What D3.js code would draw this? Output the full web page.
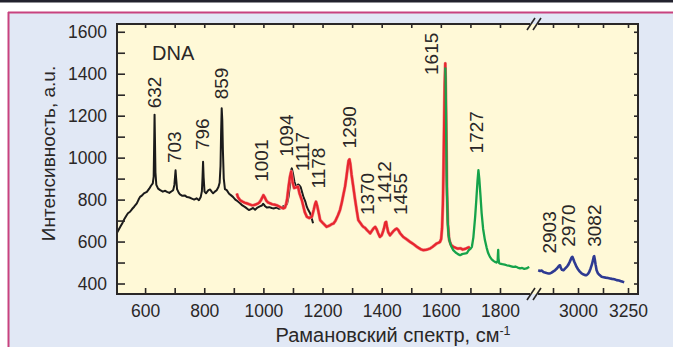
<!DOCTYPE html>
<html>
<head>
<meta charset="utf-8">
<script src="https://cdn.jsdelivr.net/npm/d3@7"></script>
<style>
  body { margin: 0; background: #fff; }
  svg { display: block; font-family: "Liberation Sans", Arial, sans-serif; }
</style>
</head>
<body>
<div id="chart"></div>
<script>
// spectrum pieces, wavenumber (cm-1) and intensity (a.u.)
const blackWn = [505,512,518,524,530,536,542,549,556,563,572,578,583,590,596,606,614,620,626,629,631,632,633,635,638,644,651,660,668,674,682,690,695,699,701,703,705,708,714,718,726,734,742,750,758,766,774,782,788,792,794,796,798,801,806,809,814,820,825,830,836,842,848,852,855,857,859,861,863,866,870,876,884,891,897,905,913,921,929,937,944,951,958,965,972,980,988,995,999,1002,1006,1012,1020,1028,1036,1045,1053,1060,1067,1074,1080,1085,1089,1092,1094,1096,1100,1105,1110,1114,1117,1121,1126,1130,1136,1142,1147,1152,1158,1163,1168];
const blackVal = [642,660,675,690,708,722,735,742,755,766,782,800,813,820,830,837,852,866,877,910,1100,1205,1120,930,870,852,845,838,842,837,832,840,845,870,905,940,900,850,832,825,818,820,812,810,805,800,806,797,812,840,900,980,905,838,830,836,845,848,838,830,838,845,860,880,960,1120,1235,1180,1040,900,850,845,828,820,813,800,792,783,772,765,758,750,755,760,752,762,768,772,780,776,768,762,764,760,758,762,756,760,768,770,780,813,860,910,940,949,925,885,862,866,872,869,860,840,810,790,765,750,735,712,687,685,690];

const redWn = [910,914,921,930,937,944,952,959,966,973,980,986,992,997,1000,1004,1010,1016,1023,1030,1037,1045,1052,1060,1068,1073,1077,1080,1085,1090,1094,1099,1104,1110,1117,1122,1130,1140,1147,1155,1164,1170,1175,1178,1182,1188,1192,1200,1207,1214,1222,1230,1237,1244,1252,1259,1265,1270,1276,1281,1285,1288,1291,1294,1298,1304,1310,1316,1321,1327,1333,1338,1344,1350,1355,1361,1366,1372,1378,1383,1388,1394,1400,1405,1409,1412,1415,1418,1422,1428,1434,1440,1446,1451,1456,1462,1468,1473,1480,1487,1496,1503,1510,1519,1527,1534,1541,1548,1556,1564,1572,1580,1586,1592,1597,1601,1604,1607,1609,1611,1613,1615,1617,1619,1621,1624,1628,1634,1642,1650,1658,1666,1674,1682,1690,1698];
const redVal = [829,812,797,790,785,782,778,774,773,776,780,786,798,812,821,812,795,786,782,778,776,773,768,762,758,762,780,800,860,910,935,880,855,858,862,830,797,740,718,712,718,750,780,790,770,730,702,690,680,670,675,682,686,700,725,750,785,820,861,910,955,985,992,970,920,861,800,745,702,690,678,670,665,655,648,639,650,662,670,658,640,622,630,650,670,690,694,670,645,630,640,650,658,662,655,640,630,622,615,608,598,592,585,575,568,562,559,560,563,567,575,584,591,594,598,612,660,780,950,1150,1350,1450,1300,1050,820,680,610,585,575,570,566,568,562,565,570,574];

const greenWn = [1615,1616,1618,1620,1623,1626,1630,1635,1642,1650,1658,1665,1672,1680,1688,1695,1700,1705,1710,1716,1720,1724,1727,1730,1734,1738,1743,1749,1755,1760,1766,1772,1778,1783,1788,1792,1793,1794,1795,1797,1800,1808,1816,1823,1830,1838,1845,1852,1860,1868,1875,1882,1890,1895,1899];
const greenVal = [1430,1380,1120,880,700,630,600,578,559,548,540,535,540,543,545,560,565,575,620,718,800,890,940,900,820,734,660,607,570,545,527,515,508,503,500,505,540,560,520,498,495,492,490,487,485,482,479,481,476,472,474,470,472,476,479];

const blueWn = [2801,2810,2818,2827,2835,2843,2852,2860,2868,2877,2885,2893,2900,2906,2910,2914,2920,2927,2934,2940,2946,2952,2958,2964,2968,2972,2976,2981,2987,2993,3000,3008,3018,3026,3035,3043,3050,3056,3063,3070,3075,3079,3081,3084,3088,3093,3100,3108,3118,3128,3138,3150,3160,3170,3182,3193,3205,3215,3224,3231];
const blueVal = [463,460,462,455,452,450,448,448,452,458,463,470,478,485,487,475,465,463,470,476,482,490,502,515,524,527,518,505,492,479,468,458,448,444,440,440,446,455,472,492,512,528,530,515,490,463,448,440,432,430,428,426,424,422,420,416,414,411,408,406];

// peak labels: text, wavenumber under the label, intensity at the label foot
const peakText = ["632","703","796","859","1001","1094","1117","1178","1290","1370","1412","1455","1615","1727","2903","2970","3082"];
const peakWn = [630,698,794,856,991,1077,1132,1185,1290,1352,1408,1462,1569,1719,2857,2950,3080];
const peakAt = [1235,974,1036,1278,885,1004,935,853,1044,726,782,726,1394,1020,543,575,575];

// axis ticks
const yTicks = d3.range(400, 1601, 100);
const yLabels = [400, 600, 800, 1000, 1200, 1400, 1600];
const xTicksL = d3.range(600, 1801, 100);
const xLabelsL = [600, 800, 1000, 1200, 1400, 1600, 1800];
const xTicksR = [2875, 3000, 3125, 3250];
const xLabelsR = [3000, 3250];

const W = 673, H = 347;
const pLeft = 117, pTop = 24, pRight = 638, pBottom = 294, brk = 534;

const svg = d3.select("#chart").append("svg").attr("width", W).attr("height", H);

// page frame bits
svg.append("rect").attr("width", W).attr("height", H).attr("fill", "#fff");
svg.append("rect").attr("x", 0).attr("y", 0).attr("width", W).attr("height", 2.5).attr("fill", "#22222e");
svg.append("rect").attr("x", 8).attr("y", 12).attr("width", W).attr("height", H).attr("fill", "#e1e8f5");
svg.append("line").attr("x1", 8).attr("x2", W).attr("y1", 12.5).attr("y2", 12.5).attr("stroke", "#c8427f").attr("stroke-width", 2);
svg.append("line").attr("x1", 8.5).attr("x2", 8.5).attr("y1", 12).attr("y2", H).attr("stroke", "#c8427f").attr("stroke-width", 2);

// plot background
svg.append("rect").attr("x", pLeft).attr("y", pTop).attr("width", pRight - pLeft).attr("height", pBottom - pTop).attr("fill", "#fff9d7");

const xL = d3.scaleLinear().domain([505, 1915]).range([pLeft, brk]);
const xR = d3.scaleLinear().domain([2780, 3300]).range([brk, pRight]);
const y = d3.scaleLinear().domain([350, 1637]).range([pBottom, pTop]);

const ink = "#2a2727";
const tickFont = 17.5;

function drawSeries(wn, val, sx, color, w) {
  const pts = wn.map((v, i) => [v, val[i]]);
  const line = d3.line().x(d => sx(d[0])).y(d => y(d[1]));
  svg.append("path").datum(pts).attr("d", line)
    .attr("fill", "none").attr("stroke", color).attr("stroke-width", w)
    .attr("stroke-linejoin", "round");
}
drawSeries(blackWn, blackVal, xL, "#1b1b1b", 2);
drawSeries(redWn, redVal, xL, "#ee8a8c", 3.2);   // soft halo of the noisy trace
drawSeries(redWn, redVal, xL, "#e8262d", 2.2);
drawSeries(greenWn, greenVal, xL, "#16a34a", 2.3);
drawSeries(blueWn, blueVal, xR, "#2e3a92", 2.6);

// axes
function styleAxis(g) {
  g.select(".domain").remove();
  g.selectAll("line").attr("stroke", ink).attr("stroke-width", 1.6);
  g.selectAll("text").attr("fill", ink).attr("font-size", tickFont).attr("font-family", "Liberation Sans, Arial, sans-serif");
}
svg.append("g").attr("transform", `translate(${pLeft},0)`)
  .call(d3.axisLeft(y).tickValues(yTicks).tickSizeInner(-8).tickSizeOuter(0).tickPadding(10)
    .tickFormat(d => yLabels.includes(d) ? d : ""))
  .call(styleAxis);
svg.append("g").attr("transform", `translate(${pRight},0)`)
  .call(d3.axisRight(y).tickValues(yTicks).tickSizeInner(-4).tickSizeOuter(0).tickFormat(""))
  .call(styleAxis);
svg.append("g").attr("transform", `translate(0,${pBottom})`)
  .call(d3.axisBottom(xL).tickValues(xTicksL).tickSizeInner(-6).tickSizeOuter(0).tickPadding(11)
    .tickFormat(d => xLabelsL.includes(d) ? d : ""))
  .call(styleAxis);
svg.append("g").attr("transform", `translate(0,${pBottom})`)
  .call(d3.axisBottom(xR).tickValues(xTicksR).tickSizeInner(-6).tickSizeOuter(0).tickPadding(11)
    .tickFormat(d => xLabelsR.includes(d) ? d : ""))
  .call(styleAxis);
svg.append("g").attr("transform", `translate(0,${pTop})`)
  .call(d3.axisTop(xL).tickValues(xTicksL).tickSizeInner(-4).tickSizeOuter(0).tickFormat(""))
  .call(styleAxis);
svg.append("g").attr("transform", `translate(0,${pTop})`)
  .call(d3.axisTop(xR).tickValues(xTicksR).tickSizeInner(-4).tickSizeOuter(0).tickFormat(""))
  .call(styleAxis);

// frame with the break
const frame = svg.append("g").attr("stroke", ink).attr("stroke-width", 2).attr("fill", "none");
frame.append("line").attr("x1", pLeft).attr("x2", pLeft).attr("y1", pTop - 1).attr("y2", pBottom + 1);
frame.append("line").attr("x1", pRight).attr("x2", pRight).attr("y1", pTop - 1).attr("y2", pBottom + 1);
[pTop, pBottom].forEach(yy => {
  frame.append("line").attr("x1", pLeft - 1).attr("x2", brk - 4).attr("y1", yy).attr("y2", yy);
  frame.append("line").attr("x1", brk + 4).attr("x2", pRight + 1).attr("y1", yy).attr("y2", yy);
  [-3, 3].forEach(o => {
    frame.append("line").attr("x1", brk + o - 4).attr("y1", yy + 6).attr("x2", brk + o + 4).attr("y2", yy - 6)
      .attr("stroke-width", 1.6);
  });
});

// peak labels
svg.append("g").selectAll("text").data(peakText).join("text")
  .attr("transform", (t, i) => {
    const sx = peakWn[i] > 2000 ? xR : xL;
    return `translate(${sx(peakWn[i]) + 6.8},${y(peakAt[i])}) rotate(-90)`;
  })
  .attr("font-size", 19).attr("fill", ink)
  .text(t => t);

svg.append("text").attr("x", 152).attr("y", 60).attr("font-size", 20).attr("fill", ink).text("DNA");

// axis titles
svg.append("text").attr("transform", "translate(55,153.5) rotate(-90)")
  .attr("text-anchor", "middle").attr("font-size", 19).attr("fill", ink)
  .text("Интенсивность, а.u.");
const xt = svg.append("text").attr("x", 393).attr("y", 341.5).attr("text-anchor", "middle")
  .attr("font-size", 20).attr("fill", ink);
xt.append("tspan").text("Рамановский спектр, см");
xt.append("tspan").attr("dy", -7).attr("font-size", 12.5).text("-1");
</script>
</body>
</html>
